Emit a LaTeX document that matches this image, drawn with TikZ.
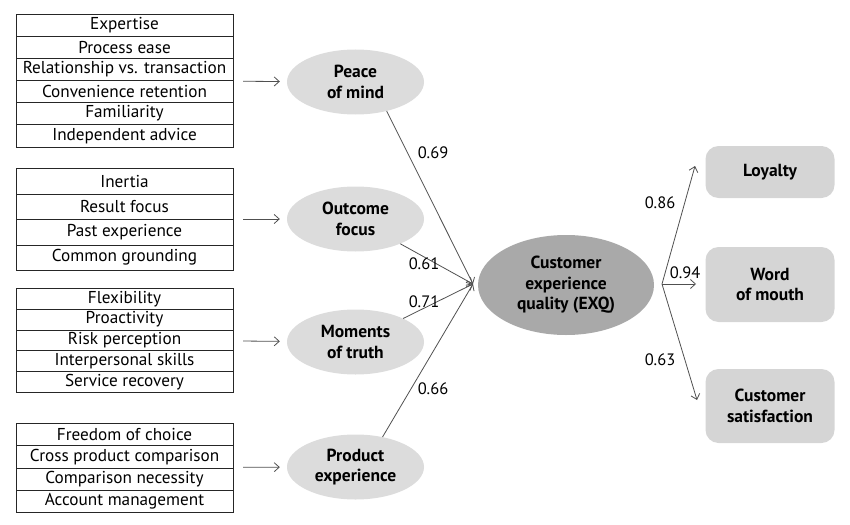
\documentclass[tikz,border=0pt]{standalone}
\usepackage{fontspec}
\setmainfont{PT Sans}
\usetikzlibrary{shapes.geometric,arrows.meta}
\definecolor{lightell}{HTML}{DCDCDC}
\definecolor{darkell}{HTML}{A9A9A9}
\definecolor{outbox}{HTML}{D5D5D5}
\definecolor{lincol}{HTML}{505050}
\newcommand{\rowfont}{\fontsize{17.2}{19}\selectfont}
\newcommand{\lblfont}{\fontsize{16.5}{19}\selectfont}
\newcommand{\bfnt}{\fontsize{17.5}{20.5}\selectfont\bfseries}
\begin{document}
\begin{tikzpicture}[x=1pt,y=-1pt,
  row/.style={draw=black!85, line width=0.8pt, minimum width=217pt, inner sep=0pt, font=\rowfont, anchor=north},
  grp/.style={minimum width=217pt, inner sep=0pt},
  lat/.style={ellipse, fill=lightell, minimum width=137pt, minimum height=65pt, font=\bfnt, align=center, inner sep=0pt},
  core/.style={ellipse, fill=darkell, minimum width=176pt, minimum height=100pt, font=\bfnt, align=center, inner sep=0pt},
  outb/.style={rounded corners=13pt, fill=outbox, minimum width=129pt, font=\bfnt, align=center, inner sep=0pt},
  arr/.style={draw=lincol, line width=0.8pt, -{Straight Barb[length=5pt,width=9pt]}},
  lbl/.style={font=\lblfont, inner sep=0pt}]
\useasboundingbox (0,0) rectangle (850,524);

% group 1
\node[row, minimum height=22pt] (a1) at (124.5,14) {Expertise};
\node[row, minimum height=22pt] (a2) at (124.5,36) {Process ease};
\node[row, minimum height=22pt] (a3) at (124.5,58) {Relationship vs. transaction};
\node[row, minimum height=22pt] (a4) at (124.5,80) {Convenience retention};
\node[row, minimum height=22pt] (a5) at (124.5,102) {Familiarity};
\node[row, minimum height=23pt] (a6) at (124.5,124) {Independent advice};
\node[grp, minimum height=133pt] (g1) at (124.5,80.5) {};

% group 2
\node[row, minimum height=25.5pt] (b1) at (124.5,168) {Inertia};
\node[row, minimum height=25.5pt] (b2) at (124.5,193.5) {Result focus};
\node[row, minimum height=25.5pt] (b3) at (124.5,219) {Past experience};
\node[row, minimum height=25.5pt] (b4) at (124.5,244.5) {Common grounding};
\node[grp, minimum height=102pt] (g2) at (124.5,219) {};

% group 3
\node[row, minimum height=20.8pt] (c1) at (124.5,288) {Flexibility};
\node[row, minimum height=20.8pt] (c2) at (124.5,308.8) {Proactivity};
\node[row, minimum height=20.8pt] (c3) at (124.5,329.6) {Risk perception};
\node[row, minimum height=20.8pt] (c4) at (124.5,350.4) {Interpersonal skills};
\node[row, minimum height=20.8pt] (c5) at (124.5,371.2) {Service recovery};
\node[grp, minimum height=104pt] (g3) at (124.5,340) {};

% group 4
\node[row, minimum height=22.25pt] (d1) at (124.5,423) {Freedom of choice};
\node[row, minimum height=22.25pt] (d2) at (124.5,445.25) {Cross product comparison};
\node[row, minimum height=22.25pt] (d3) at (124.5,467.5) {Comparison necessity};
\node[row, minimum height=22.25pt] (d4) at (124.5,489.75) {Account management};
\node[grp, minimum height=89pt] (g4) at (124.5,467.5) {};

% latent ellipses
\node[lat] (pm) at (355.5,82) {Peace\\of mind};
\node[lat] (of) at (355.5,219) {Outcome\\focus};
\node[lat] (mt) at (355.5,342) {Moments\\of truth};
\node[lat] (pe) at (355.5,467) {Product\\experience};

% core
\node[core] (exq) at (566,285) {Customer\\experience\\quality (EXQ)};

% outcomes
\node[outb, minimum height=52pt] (loy) at (770,172) {Loyalty};
\node[outb, minimum height=75pt] (wom) at (770,284.5) {Word\\of mouth};
\node[outb, minimum height=74pt] (cs) at (770,406) {Customer\\satisfaction};

% left arrows
\draw[arr, shorten <=10pt, shorten >=7pt] (g1) -- (pm);
\draw[arr, shorten <=10pt, shorten >=7pt] (g2) -- (of);
\draw[arr, shorten <=10pt, shorten >=7pt] (g3) -- (mt);
\draw[arr, shorten <=10pt, shorten >=7pt] (g4) -- (pe);

% convergence
\coordinate (cv) at (473,284);
\draw[arr] (pm.-43) -- (cv);
\draw[arr] (of) -- (cv);
\draw[arr] (mt) -- (cv);
\draw[arr] (pe.48) -- (cv);
\node[lbl] (l69) at (433,153) {0.69};
\node[lbl] (l61) at (424,264) {0.61};
\node[lbl] (l71) at (424,302) {0.71};
\node[lbl] (l66) at (433,389) {0.66};

% divergence
\coordinate (dv) at (662,284);
\coordinate (eloy) at (695,166);
\coordinate (ewom) at (696,284);
\coordinate (ecs) at (697,400);
\draw[arr] (dv) -- (eloy);
\draw[arr] (dv) -- (ewom);
\draw[arr] (dv) -- (ecs);
\node[lbl] (l86) at (660,203) {0.86};
\node[lbl] (l94) at (685,273) {0.94};
\node[lbl] (l63) at (660,360) {0.63};
\end{tikzpicture}
\end{document}
